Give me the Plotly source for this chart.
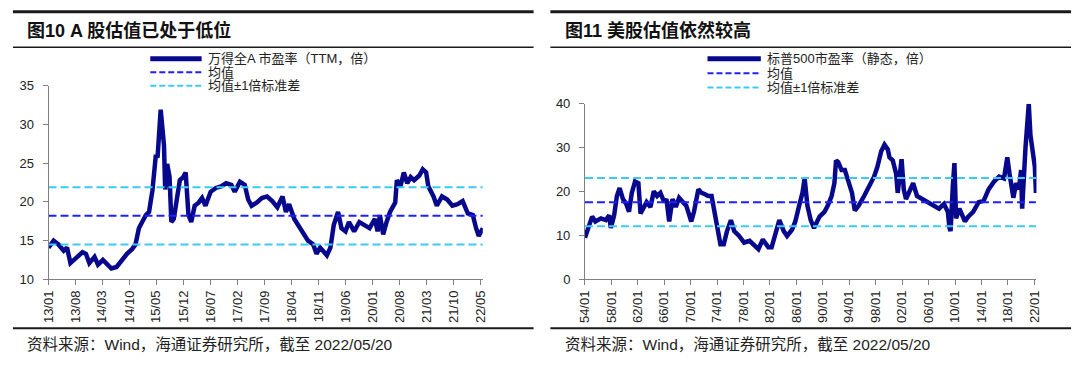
import plotly.graph_objects as go

W, H = 1080, 366


def px(x):
    return x / W


def py(y):
    return 1 - y / H


# ---------------- Data: A-share PE (TTM) ----------------
a_dates = [
    "2013-01-01", "2013-02-10", "2013-03-20", "2013-05-01", "2013-05-27", "2013-06-23",
    "2013-08-03", "2013-09-26", "2013-10-23", "2013-11-19", "2013-12-30", "2014-01-26",
    "2014-03-06", "2014-04-16", "2014-05-12", "2014-06-22", "2014-08-02", "2014-09-12",
    "2014-10-22", "2014-11-18", "2014-12-15", "2015-01-11", "2015-02-08", "2015-03-05",
    "2015-04-01", "2015-04-28", "2015-05-11", "2015-06-05", "2015-06-13", "2015-07-01",
    "2015-07-10", "2015-07-26", "2015-08-14", "2015-08-28", "2015-09-16", "2015-10-07",
    "2015-11-03", "2015-11-30", "2015-12-19", "2016-01-10", "2016-02-01", "2016-02-28",
    "2016-03-30", "2016-04-26", "2016-05-23", "2016-07-03", "2016-08-13", "2016-09-23",
    "2016-11-02", "2016-12-13", "2017-01-09", "2017-02-19", "2017-03-29", "2017-04-25",
    "2017-05-22", "2017-07-01", "2017-08-11", "2017-09-21", "2017-11-01", "2017-12-11",
    "2018-01-21", "2018-02-17", "2018-03-14", "2018-04-24", "2018-06-03", "2018-07-13",
    "2018-08-10", "2018-09-20", "2018-10-16", "2018-11-13", "2018-12-10", "2019-01-06",
    "2019-02-03", "2019-03-01", "2019-04-04", "2019-05-01", "2019-06-02", "2019-06-29",
    "2019-08-09", "2019-09-19", "2019-10-29", "2019-12-09", "2020-01-19", "2020-02-10",
    "2020-02-28", "2020-03-25", "2020-04-21", "2020-05-18", "2020-06-28", "2020-07-11",
    "2020-08-08", "2020-09-04", "2020-10-01", "2020-10-28", "2020-11-24", "2021-01-04",
    "2021-01-31", "2021-02-27", "2021-03-16", "2021-04-26", "2021-05-22", "2021-07-02",
    "2021-08-12", "2021-09-22", "2021-11-02", "2021-12-12", "2022-01-22", "2022-03-02",
    "2022-03-28", "2022-04-18", "2022-05-20",
]
a_pe = [
    14.1, 15.0, 14.5, 13.7, 14.1, 12.1,
    12.7, 13.5, 13.3, 12.1, 12.9, 11.9,
    12.5, 11.9, 11.4, 11.6, 12.5, 13.3,
    13.9, 14.5, 16.6, 17.4, 18.3, 18.7,
    21.5, 26.1, 25.7, 31.9, 30.6, 27.3,
    21.6, 24.9, 23.2, 17.4, 17.8, 20.3,
    22.8, 23.2, 23.8, 18.3, 17.4, 19.5,
    19.9, 20.5, 19.5, 21.3, 21.8, 22.0,
    22.4, 22.2, 21.3, 22.6, 22.2, 20.3,
    19.5, 19.9, 20.5, 20.7, 20.1, 19.3,
    20.7, 18.7, 19.7, 17.8, 16.8, 15.8,
    15.0, 14.5, 13.3, 14.1, 13.5, 13.1,
    14.1, 17.0, 18.7, 16.6, 16.2, 17.4,
    16.2, 17.4, 17.0, 16.6, 17.8, 16.2,
    18.3, 15.8, 17.4, 18.7, 19.9, 22.8,
    22.0, 23.8, 22.4, 23.2, 22.8, 23.4,
    24.2, 23.8, 22.0, 20.7, 19.5, 20.7,
    20.3, 19.5, 19.7, 20.1, 18.5, 18.3,
    16.6, 15.6, 16.6,
]
a_mean = 18.2
a_std = 3.7
a_ticks = ["13/01", "13/08", "14/03", "14/10", "15/05", "15/12", "16/07", "17/02",
           "17/09", "18/04", "18/11", "19/06", "20/01", "20/08", "21/03", "21/10", "22/05"]
a_name = "万得全A 市盈率（TTM，倍）"

# ---------------- Data: S&P 500 PE ----------------
sp_dates = [
    "1954-01", "1954-08", "1955-02", "1955-08", "1956-06", "1957-03", "1957-09", "1957-12",
    "1958-06", "1958-11", "1959-04", "1959-10", "1960-04", "1960-09", "1961-02", "1961-08",
    "1962-02", "1962-06", "1963-01", "1963-05", "1963-12", "1964-06", "1964-12", "1965-06",
    "1966-01", "1966-05", "1966-10", "1967-04", "1967-10", "1968-04", "1968-11", "1969-05",
    "1970-02", "1970-07", "1971-03", "1971-09", "1972-03", "1972-09", "1973-03", "1973-09",
    "1974-03", "1974-07", "1975-01", "1975-07", "1976-02", "1976-08", "1977-05", "1978-02",
    "1978-12", "1979-09", "1980-04", "1980-12", "1981-10", "1982-04", "1982-10", "1983-06",
    "1984-02", "1984-08", "1985-05", "1985-11", "1986-06", "1986-12", "1987-04", "1987-09",
    "1988-03", "1988-09", "1989-07", "1990-04", "1990-10", "1991-05", "1991-10", "1992-01",
    "1992-05", "1992-11", "1993-05", "1993-12", "1994-06", "1994-11", "1995-06", "1996-04",
    "1997-01", "1997-10", "1998-04", "1998-11", "1999-05", "1999-11", "2000-02", "2000-08",
    "2001-02", "2001-05", "2001-12", "2002-04", "2002-08", "2003-03", "2003-09", "2004-04",
    "2005-01", "2005-10", "2006-11", "2007-08", "2008-05", "2008-12", "2009-03", "2009-05",
    "2009-09", "2009-12", "2010-03", "2010-09", "2011-07", "2012-01", "2012-10", "2013-08",
    "2014-05", "2015-02", "2015-12", "2016-09", "2017-06", "2017-12", "2018-04", "2018-11",
    "2019-04", "2019-09", "2020-01", "2020-03", "2020-09", "2020-12", "2021-03", "2021-06",
    "2021-08", "2021-11", "2022-02", "2022-04",
]
sp_pe = [
    9.5, 12.4, 14.3, 13.2, 13.9, 13.5, 14.6, 11.7,
    14.6, 19.0, 20.8, 18.3, 17.2, 15.4, 19.7, 22.3,
    21.9, 15.0, 16.5, 17.6, 16.5, 20.1, 19.0, 19.7,
    17.6, 18.3, 13.2, 18.3, 16.5, 18.6, 17.6, 16.8,
    13.2, 15.4, 20.5, 19.7, 19.4, 19.0, 19.0, 14.6,
    11.7, 8.0, 8.0, 11.0, 13.5, 11.0, 9.9, 8.4,
    8.8, 7.7, 6.9, 9.1, 7.3, 7.3, 10.2, 13.5,
    11.0, 9.9, 11.3, 13.2, 16.8, 19.7, 23.0, 16.8,
    13.5, 11.7, 14.3, 15.4, 16.8, 19.0, 21.9, 27.1,
    26.7, 24.9, 24.9, 21.9, 19.7, 15.7, 16.8, 19.0,
    21.2, 23.4, 25.6, 29.2, 30.7, 29.6, 27.8, 27.1,
    24.1, 19.7, 27.4, 20.5, 18.3, 20.5, 21.9, 19.0,
    18.3, 17.6, 16.5, 16.1, 17.2, 15.4, 11.7, 11.0,
    21.2, 26.5, 13.9, 16.1, 13.2, 14.3, 15.4, 17.6,
    17.9, 20.5, 22.3, 23.4, 23.0, 27.8, 24.1, 18.6,
    21.9, 20.5, 24.9, 16.1, 30.0, 35.8, 40.0, 32.9,
    31.4, 27.8, 25.6, 19.7,
]
sp_mean = 17.6
sp_std = 5.5
sp_ticks = ["54/01", "58/01", "62/01", "66/01", "70/01", "74/01", "78/01", "82/01", "86/01",
            "90/01", "94/01", "98/01", "02/01", "06/01", "10/01", "14/01", "18/01", "22/01"]
sp_name = "标普500市盈率（静态，倍）"

mean_name = "均值"
std_name = "均值±1倍标准差"
left_title = "图10 A 股估值已处于低位"
right_title = "图11 美股估值依然较高"
source_text = "资料来源：Wind，海通证券研究所，截至 2022/05/20"


def tick_date(lbl):
    yy, mm = lbl.split("/")
    yy = int(yy)
    year = 1900 + yy if yy >= 50 else 2000 + yy
    return f"{year}-{mm}-01"


NAVY = "#08088c"
BLUE = "#2020ff"
CYAN = "#3ccaf5"
FONT = "Liberation Sans, Noto Sans CJK SC, sans-serif"
AXC = "#808080"

fig = go.Figure()

# left chart
fig.add_trace(go.Scatter(x=a_dates, y=a_pe, mode="lines", line=dict(color=NAVY, width=4.5),
                         xaxis="x", yaxis="y", name=a_name))
a_span = [a_dates[0], a_dates[-1]]
fig.add_trace(go.Scatter(x=a_span, y=[a_mean, a_mean], mode="lines",
                         line=dict(color=BLUE, width=2, dash="8px,4px"), xaxis="x", yaxis="y", name=mean_name))
fig.add_trace(go.Scatter(x=a_span, y=[a_mean + a_std] * 2, mode="lines",
                         line=dict(color=CYAN, width=2, dash="8px,4px"), xaxis="x", yaxis="y", name=std_name))
fig.add_trace(go.Scatter(x=a_span, y=[a_mean - a_std] * 2, mode="lines",
                         line=dict(color=CYAN, width=2, dash="8px,4px"), xaxis="x", yaxis="y", name=std_name))

# right chart
fig.add_trace(go.Scatter(x=sp_dates, y=sp_pe, mode="lines", line=dict(color=NAVY, width=4.5),
                         xaxis="x2", yaxis="y2", name=sp_name))
sp_span = [sp_dates[0], sp_dates[-1]]
fig.add_trace(go.Scatter(x=sp_span, y=[sp_mean, sp_mean], mode="lines",
                         line=dict(color=BLUE, width=2, dash="8px,4px"), xaxis="x2", yaxis="y2", name=mean_name))
fig.add_trace(go.Scatter(x=sp_span, y=[sp_mean + sp_std] * 2, mode="lines",
                         line=dict(color=CYAN, width=2, dash="8px,4px"), xaxis="x2", yaxis="y2", name=std_name))
fig.add_trace(go.Scatter(x=sp_span, y=[sp_mean - sp_std] * 2, mode="lines",
                         line=dict(color=CYAN, width=2, dash="8px,4px"), xaxis="x2", yaxis="y2", name=std_name))

common_x = dict(type="date", showgrid=False, zeroline=False, showline=True, linecolor=AXC, linewidth=1,
                ticks="outside", ticklen=5, tickcolor=AXC, tickangle=-90,
                tickfont=dict(family=FONT, size=13, color="#222"))
common_y = dict(showgrid=False, zeroline=False, showline=True, linecolor=AXC, linewidth=1,
                ticks="outside", ticklen=5, tickcolor=AXC, ticklabelstandoff=6,
                tickfont=dict(family=FONT, size=13, color="#222"))

fig.update_layout(
    width=W, height=H, margin=dict(l=0, r=0, t=0, b=0),
    paper_bgcolor="white", plot_bgcolor="white", showlegend=False,
    xaxis=dict(common_x, domain=[px(41), px(480.6)], anchor="y",
               range=["2013-01-01", "2022-05-20"],
               tickvals=[tick_date(t) for t in a_ticks], ticktext=a_ticks),
    yaxis=dict(common_y, domain=[py(284), py(82)], anchor="x", range=[10, 35], dtick=5),
    xaxis2=dict(common_x, domain=[px(584), px(1041)], anchor="y2",
                range=["1954-01-01", "2022-05-01"],
                tickvals=[tick_date(t) for t in sp_ticks], ticktext=sp_ticks),
    yaxis2=dict(common_y, domain=[py(284), py(101)], anchor="x2", range=[0, 40], dtick=10),
)

shapes = []
annotations = []


def rule(x0, x1, y, w):
    shapes.append(dict(type="line", xref="paper", yref="paper", x0=px(x0), x1=px(x1),
                       y0=py(y), y1=py(y), line=dict(color="#1a1a1a", width=w)))


for (x0, x1) in [(5, 532), (549, 1076)]:
    rule(x0, x1, 5, 3)
    rule(x0, x1, 42, 1.5)
    rule(x0, x1, 335, 2)


def legend(x0, x1, tx, rows, names):
    styles = [dict(color=NAVY, width=5), dict(color=BLUE, width=2, dash="6px,3px"),
              dict(color=CYAN, width=2, dash="6px,3px")]
    for yy, st, nm in zip(rows, styles, names):
        shapes.append(dict(type="line", xref="paper", yref="paper", x0=px(x0), x1=px(x1),
                           y0=py(yy), y1=py(yy), line=st))
        annotations.append(dict(xref="paper", yref="paper", x=px(tx), y=py(yy), text=nm,
                                showarrow=False, xanchor="left", yanchor="middle",
                                font=dict(family=FONT, size=13, color="#222")))


legend(144, 196, 200, [54, 68, 82], [a_name, mean_name, std_name])
legend(708, 762, 766, [54, 69, 84], [sp_name, mean_name, std_name])

for x, t in [(17, left_title), (562, right_title)]:
    annotations.append(dict(xref="paper", yref="paper", x=px(x), y=py(25), text=f"<b>{t}</b>",
                            showarrow=False, xanchor="left", yanchor="middle",
                            font=dict(family=FONT, size=18, color="#111")))
for x in [17, 562]:
    annotations.append(dict(xref="paper", yref="paper", x=px(x), y=py(352), text=source_text,
                            showarrow=False, xanchor="left", yanchor="middle",
                            font=dict(family=FONT, size=15.5, color="#222")))

fig.update_layout(shapes=shapes, annotations=annotations)
fig.write_html("out.html", config={"displayModeBar": False},
               post_script="document.body.style.margin='0px';")
